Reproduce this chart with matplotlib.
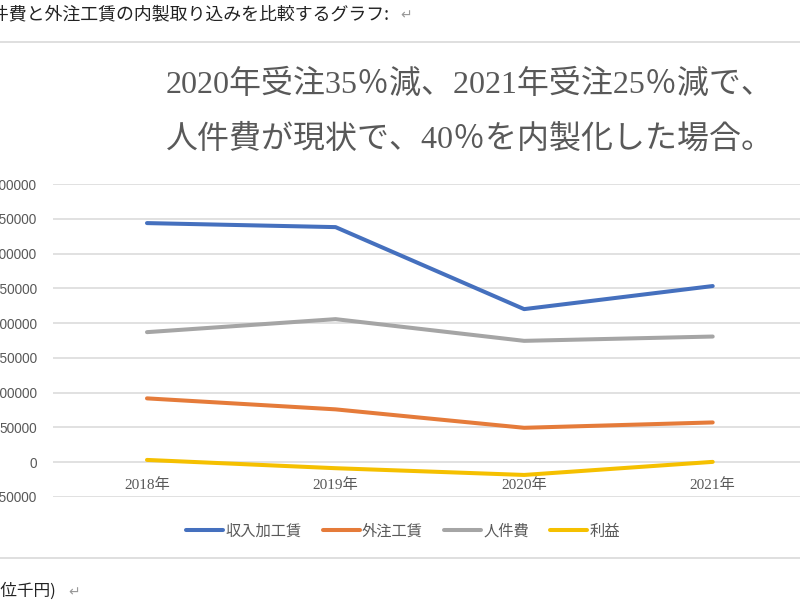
import matplotlib
matplotlib.use("Agg")
import matplotlib.pyplot as plt
from matplotlib.lines import Line2D

W, H = 800, 603

years = ["2018年", "2019年", "2020年", "2021年"]
series_names = ["収入加工賃", "外注工賃", "人件費", "利益"]
revenue = [343800, 338000, 220100, 253300]
outsourcing = [91800, 76000, 49500, 57200]
labor = [187000, 205700, 174500, 180700]
profit = [3300, -8600, -18300, 500]
yticks = [-50000, 0, 50000, 100000, 150000, 200000, 250000, 300000, 350000, 400000]

colors = ["#4570BE", "#E57B3A", "#A5A5A5", "#F5C000"]
grid_c = "#D9D9D9"
txt_c = "#595959"
CJK = "Noto Sans CJK JP"

fig = plt.figure(figsize=(W / 100, H / 100), dpi=100)
fig.patch.set_facecolor("white")

def px(x, y):
    return x / W, 1 - y / H

# plot area (pixel coordinates from the reference)
left, right, top, bottom = 52.7, 807.0, 184.0, 497.0
ax = fig.add_axes([left / W, 1 - bottom / H, (right - left) / W, (bottom - top) / H])
ax.set_facecolor("none")

x = list(range(len(years)))
for vals, c, name in zip([revenue, outsourcing, labor, profit], colors, series_names):
    ax.plot(x, vals, color=c, lw=2.9, solid_capstyle="round", solid_joinstyle="round",
            label=name, zorder=3)

ax.set_xlim(-0.5, len(years) - 0.5)
ax.set_ylim(yticks[0], yticks[-1])
ax.set_yticks(yticks)
ax.set_yticklabels([str(v) for v in yticks], family="Liberation Sans", fontsize=9.8, color=txt_c)
ax.yaxis.grid(True, color=grid_c, lw=1.1)
ax.set_axisbelow(True)
for s in ax.spines.values():
    s.set_visible(False)
ax.tick_params(axis="y", length=0, pad=11.3)

ax.set_xticks(x)
ax.set_xticklabels(years, family=["Liberation Serif", CJK], fontsize=11, color=txt_c)
ax.tick_params(axis="x", length=0, pad=-13.5)

# title
fig.text(*px(470, 85), "2020年受注35％減、2021年受注25％減で、", ha="center", va="center",
         fontsize=23, color=txt_c, family=["Liberation Serif", CJK])
fig.text(*px(470, 140), "人件費が現状で、40％を内製化した場合。", ha="center", va="center",
         fontsize=23, color=txt_c, family=["Liberation Serif", CJK])

# legend
leg = fig.legend(loc="center", bbox_to_anchor=px(403, 531), ncol=4, frameon=False,
                 prop={"family": CJK, "size": 11}, handlelength=2.4, handletextpad=0.15,
                 columnspacing=1.4)
for t in leg.get_texts():
    t.set_color(txt_c)
for h in leg.legend_handles:
    h.set_linewidth(2.9)

# document text around the chart
fig.text(*px(-27, 14), "人件費と外注工賃の内製取り込みを比較するグラフ:", ha="left", va="center",
         fontsize=12.9, color="#222222", family=CJK)
fig.text(*px(400, 15), "↵", ha="left", va="center", fontsize=10, color="#999999",
         family=[CJK, "DejaVu Sans"])
fig.text(*px(-22, 591), "(単位千円)", ha="left", va="center", fontsize=12,
         color="#222222", family=CJK)
fig.text(*px(68, 592), "↵", ha="left", va="center", fontsize=10, color="#999999",
         family=[CJK, "DejaVu Sans"])

# chart area border lines
for yy in (41.5, 558):
    fig.add_artist(Line2D([0, 1], [1 - yy / H, 1 - yy / H], transform=fig.transFigure,
                          color=grid_c, lw=1.2))

fig.savefig("out.png", dpi=100)
